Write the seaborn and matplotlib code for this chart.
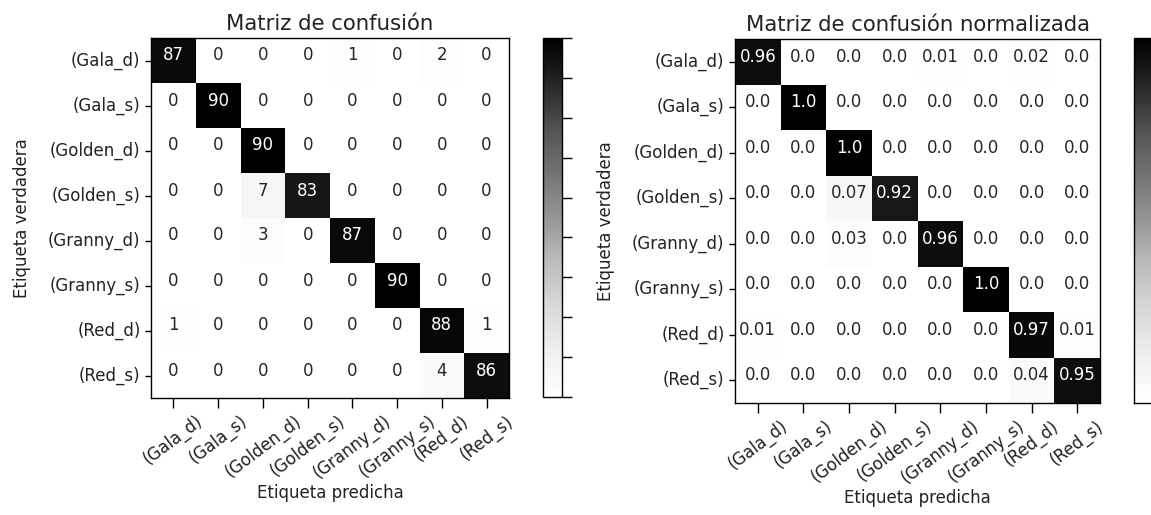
import numpy as np
import matplotlib
matplotlib.use("Agg")
import matplotlib.pyplot as plt
import seaborn as sns

classes = ['(Gala_d)', '(Gala_s)', '(Golden_d)', '(Golden_s)',
           '(Granny_d)', '(Granny_s)', '(Red_d)', '(Red_s)']

counts = [
    [87, 0, 0, 0, 1, 0, 2, 0],
    [0, 90, 0, 0, 0, 0, 0, 0],
    [0, 0, 90, 0, 0, 0, 0, 0],
    [0, 0, 7, 83, 0, 0, 0, 0],
    [0, 0, 3, 0, 87, 0, 0, 0],
    [0, 0, 0, 0, 0, 90, 0, 0],
    [1, 0, 0, 0, 0, 0, 88, 1],
    [0, 0, 0, 0, 0, 0, 4, 86],
]

normalized = [
    [0.96, 0.0, 0.0, 0.0, 0.01, 0.0, 0.02, 0.0],
    [0.0, 1.0, 0.0, 0.0, 0.0, 0.0, 0.0, 0.0],
    [0.0, 0.0, 1.0, 0.0, 0.0, 0.0, 0.0, 0.0],
    [0.0, 0.0, 0.07, 0.92, 0.0, 0.0, 0.0, 0.0],
    [0.0, 0.0, 0.03, 0.0, 0.96, 0.0, 0.0, 0.0],
    [0.0, 0.0, 0.0, 0.0, 0.0, 1.0, 0.0, 0.0],
    [0.01, 0.0, 0.0, 0.0, 0.0, 0.0, 0.97, 0.01],
    [0.0, 0.0, 0.0, 0.0, 0.0, 0.0, 0.04, 0.95],
]

titles = ['Matriz de confusión', 'Matriz de confusión normalizada']
xlabel = 'Etiqueta predicha'
ylabel = 'Etiqueta verdadera'

plt.rcParams['font.family'] = ['DejaVu Sans']
plt.rcParams['font.size'] = 12
plt.rcParams['text.color'] = '#222222'
plt.rcParams['axes.labelcolor'] = '#222222'
plt.rcParams['xtick.labelcolor'] = '#222222'
plt.rcParams['ytick.labelcolor'] = '#222222'

W, H = 1151, 515
fig = plt.figure(figsize=(W / 100, H / 100), dpi=100)


def box(x0, y0, x1, y1):
    return [x0 / W, (H - y1) / H, (x1 - x0) / W, (y1 - y0) / H]


ax1 = fig.add_axes(box(151, 38, 509, 398))
cax1 = fig.add_axes(box(543, 38, 562, 397))
ax2 = fig.add_axes(box(735, 39, 1100, 403))
cax2 = fig.add_axes(box(1134, 38, 1153, 403))

annot1 = np.array([[str(v) for v in row] for row in counts])
annot2 = np.array([[str(v) for v in row] for row in normalized])

specs = [
    (ax1, cax1, np.array(counts, dtype=float), annot1, 0, 90, np.arange(0, 91, 10), titles[0]),
    (ax2, cax2, np.array(normalized), annot2, 0, 1, np.arange(0, 1.01, 0.1), titles[1]),
]

for ax, cax, data, annot, vmin, vmax, cticks, title in specs:
    sns.heatmap(data, ax=ax, cbar_ax=cax, cmap='Greys', vmin=vmin, vmax=vmax,
                annot=annot, fmt='', annot_kws={'fontsize': 12, 'va': 'baseline'},
                xticklabels=classes, yticklabels=classes, square=False)
    for s in ax.spines.values():
        s.set_visible(True)
        s.set_linewidth(1.0)
        s.set_color('black')
    ax.set_title(title, fontsize=15.3, pad=6)
    ax.set_xlabel(xlabel, fontsize=12, labelpad=1)
    ax.set_ylabel(ylabel, fontsize=12, labelpad=12)
    ax.tick_params(axis='x', length=7, width=1, labelsize=12, pad=3)
    ax.tick_params(axis='y', length=4.5, width=1, labelsize=12, pad=3)
    plt.setp(ax.get_xticklabels(), rotation=37, ha='center')
    plt.setp(ax.get_yticklabels(), rotation=0, va='center')
    cb = ax.collections[0].colorbar
    cb.outline.set_linewidth(1.0)
    cb.outline.set_edgecolor('black')
    cb.set_ticks(cticks)
    cb.ax.set_yticklabels([])
    cb.ax.tick_params(length=7, width=1)

fig.savefig('out.png', dpi=100)
